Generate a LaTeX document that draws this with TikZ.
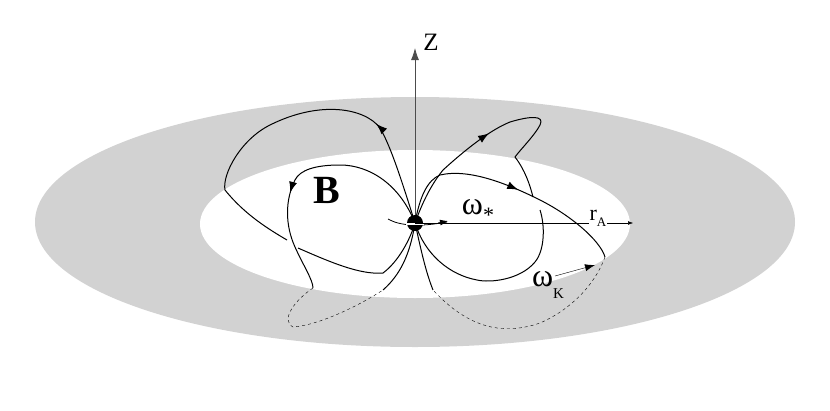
\documentclass[tikz,border=0pt]{standalone}
\usepackage{fontspec}
\setmainfont{Liberation Serif}
\usetikzlibrary{arrows.meta,decorations.markings}
\begin{document}
\begin{tikzpicture}[x=1pt, y=-1pt, > = Latex,
	field/.style = {line width = 1pt, black},
	mid arrow/.style = {postaction = {decorate, decoration = {markings,
		mark = at position #1 with {\arrow{Latex[length=11pt,width=8pt]}}}}}]

	\useasboundingbox (0, 0) rectangle (830, 410);

	% The disk

	\fill [gray!35] (415, 222) ellipse (380 and 125);
	\fill [white] (415, 224) ellipse (215 and 74);

	% Rotation axis

	\coordinate (star) at (415, 223);
	\draw [-{Latex[length=12pt,width=8pt]}, gray!60!black, line width = 0.8pt] (star) -- (415, 48);
	\node (zlab) at (431, 42) {\fontsize{25}{25}\selectfont Z};

	% Field lines, left side

	\draw [field, mid arrow=0.28] (star) .. controls (400, 175) and (390, 145) .. (380, 128)
		.. controls (365, 108) and (320, 100) .. (270, 125)
		.. controls (240, 140) and (222, 175) .. (225, 190)
		.. controls (245, 215) and (270, 230) .. (287, 240);
	\draw [field] (298, 248) .. controls (330, 262) and (360, 275) .. (383, 273)
		.. controls (398, 262) and (410, 240) .. (star);

	\draw [field, mid arrow=0.62] (star) .. controls (400, 185) and (370, 165) .. (340, 165)
		.. controls (315, 165) and (300, 170) .. (295, 180)
		.. controls (285, 200) and (285, 225) .. (295, 247)
		.. controls (303, 265) and (313, 280) .. (313, 288);
	\draw [dashed] (313, 288) .. controls (295, 300) and (280, 320) .. (293, 327)
		.. controls (320, 325) and (360, 305) .. (383, 290);
	\draw [field] (383, 290) .. controls (400, 275) and (410, 255) .. (star);

	% Field lines, right side

	\draw [field, mid arrow=0.45] (star) .. controls (425, 195) and (435, 180) .. (443, 170)
		.. controls (465, 150) and (490, 130) .. (510, 122)
		.. controls (530, 116) and (545, 115) .. (540, 125)
		.. controls (535, 135) and (520, 150) .. (515, 157)
		.. controls (525, 170) and (530, 185) .. (533, 197);
	\draw [field] (540, 210) .. controls (545, 225) and (545, 250) .. (535, 262)
		.. controls (520, 280) and (490, 283) .. (477, 280)
		.. controls (450, 275) and (425, 255) .. (star);

	\draw [field, mid arrow=0.55] (star) .. controls (420, 195) and (428, 180) .. (440, 175)
		.. controls (470, 168) and (510, 185) .. (540, 200)
		.. controls (570, 215) and (600, 240) .. (605, 257);
	\draw [dashed] (605, 257) .. controls (595, 285) and (570, 310) .. (540, 323)
		.. controls (505, 335) and (470, 330) .. (433, 290);
	\draw [field] (433, 290) .. controls (425, 270) and (420, 245) .. (star);

	% Star and its rotation

	\draw [thick] (388, 219) .. controls (400, 226) and (420, 227) .. (447, 222);
	\draw [-{Latex[length=8pt,width=6pt]}, thick] (438, 223) -- (448, 221);
	\fill (star) circle (8);
	\fill [white] (406, 223) rectangle (424, 224.5);

	% Alfven radius axis

	\coordinate (rA) at (633, 223);
	\draw [->] (star) -- (rA);
	\node [fill = white, inner sep = 0.5pt] (rAlab) at (598, 218) {\fontsize{22}{22}\selectfont r\raisebox{-0.6ex}{\fontsize{13}{13}\selectfont A}};

	% Labels

	\node (Blab) at (327, 190) {\fontsize{40}{40}\selectfont\bfseries B};
	\node (wstar) at (478, 211) {\fontsize{32}{32}\selectfont ω\raisebox{-0.6ex}{\fontsize{22}{22}\selectfont *}};
	\node (wK) at (548, 285) {\fontsize{32}{32}\selectfont ω\raisebox{-0.8ex}{\fontsize{15}{15}\selectfont K}};
	\draw [-{Latex[length=10pt,width=7pt]}] (555, 276) -- (595, 265);

\end{tikzpicture}
\end{document}
